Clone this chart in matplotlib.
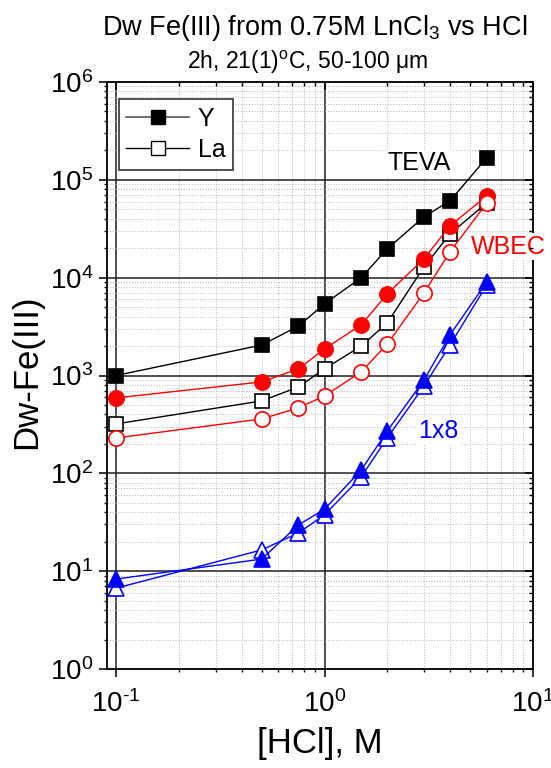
import matplotlib
matplotlib.use("Agg")
import matplotlib.pyplot as plt
from matplotlib.ticker import LogLocator, NullFormatter, FuncFormatter
from matplotlib.lines import Line2D
import numpy as np

plt.rcParams['font.family'] = ['Liberation Sans', 'DejaVu Sans']
plt.rcParams['mathtext.fontset'] = 'custom'
plt.rcParams['mathtext.rm'] = 'Liberation Sans'
plt.rcParams['mathtext.it'] = 'Liberation Sans:italic'
plt.rcParams['mathtext.bf'] = 'Liberation Sans:bold'
plt.rcParams['mathtext.default'] = 'regular'
plt.rcParams['axes.unicode_minus'] = False

# ---- data ----
hcl = [0.1, 0.5, 0.75, 1.0, 1.5, 2.0, 3.0, 4.0, 6.0]
y_teva = [1000, 2050, 3200, 5400, 10000, 19700, 41900, 61000, 168000]
la_teva = [320, 550, 764, 1170, 2000, 3450, 12900, 28000, 58200]
y_wbec = [590, 860, 1170, 1870, 3290, 6830, 15600, 33900, 68600]
la_wbec = [230, 360, 467, 618, 1090, 2100, 7000, 18400, 58000]
y_1x8 = [8.3, 13.3, 29.7, 43, 108, 271, 900, 2600, 9060]
la_1x8 = [6.7, 16.5, 24.6, 37.6, 92, 230, 780, 2050, 8440]

legend_labels = ['Y', 'La']
resin_labels = ['TEVA', 'WBEC', '1x8']


def pow_fmt(v, pos):
    e = int(round(np.log10(v)))
    s = str(e).replace('-', '\u2010')
    return '$10^{' + s + '}$'


W, H = 551, 768
fig = plt.figure(figsize=(W / 100, H / 100), dpi=100)
L, R, T, B = 107, 533, 82, 669
ax = fig.add_axes([L / W, 1 - B / H, (R - L) / W, (B - T) / H])
ax.set_xscale('log')
ax.set_yscale('log')
ax.set_xlim(0.0905, 10)
ax.set_ylim(1, 1e6)

# grid
ax.xaxis.set_major_locator(LogLocator(base=10, numticks=10))
ax.yaxis.set_major_locator(LogLocator(base=10, numticks=10))
ax.xaxis.set_minor_locator(LogLocator(base=10, subs=range(2, 10), numticks=20))
ax.yaxis.set_minor_locator(LogLocator(base=10, subs=range(2, 10), numticks=20))
ax.xaxis.set_major_formatter(FuncFormatter(pow_fmt))
ax.yaxis.set_major_formatter(FuncFormatter(pow_fmt))
ax.xaxis.set_minor_formatter(NullFormatter())
ax.yaxis.set_minor_formatter(NullFormatter())
ax.grid(True, which='minor', color='#b4b4b4', linestyle=(0, (1, 1.8)), lw=0.7, zorder=0)
ax.grid(True, which='major', color='#202020', linestyle='-', lw=1.1, zorder=0)
ax.set_axisbelow(True)

for s in ax.spines.values():
    s.set_linewidth(1.4)
    s.set_color('#111111')

ax.tick_params(which='major', direction='out', length=6, width=1.2, labelsize=20, pad=4,
               colors='#111111', labelcolor='black')
ax.tick_params(which='minor', direction='out', length=2.5, width=1.0, colors='#111111')
ax.tick_params(axis='x', which='major', pad=9)

# inward ticks on top/right
ax2 = ax.twinx()
ax2.set_yscale('log')
ax2.set_ylim(1, 1e6)
ax2.yaxis.set_major_locator(LogLocator(base=10, numticks=10))
ax2.yaxis.set_minor_locator(LogLocator(base=10, subs=range(2, 10), numticks=20))
ax2.tick_params(which='major', direction='in', length=6, width=1.2, labelright=False)
ax2.tick_params(which='minor', direction='in', length=3, width=1.0, labelright=False)
ax3 = ax.twiny()
ax3.set_xscale('log')
ax3.set_xlim(0.0905, 10)
ax3.xaxis.set_major_locator(LogLocator(base=10, numticks=10))
ax3.xaxis.set_minor_locator(LogLocator(base=10, subs=range(2, 10), numticks=20))
ax3.tick_params(which='major', direction='in', length=6, width=1.2, labeltop=False)
ax3.tick_params(which='minor', direction='in', length=3, width=1.0, labeltop=False)
for a in (ax2, ax3):
    for s in a.spines.values():
        s.set_visible(False)
    a.yaxis.set_minor_formatter(NullFormatter())
    a.xaxis.set_minor_formatter(NullFormatter())

lw = 1.0
mew = 1.2
ax.plot(hcl, y_teva, '-s', color='black', lw=lw, ms=10, mfc='black', mec='black', mew=mew, zorder=5)
ax.plot(hcl, la_teva, '-s', color='black', lw=lw, ms=10, mfc='white', mec='black', mew=mew, zorder=5)
ax.plot(hcl, y_wbec, '-o', color='red', lw=lw, ms=11, mfc='red', mec='red', mew=mew, zorder=5)
ax.plot(hcl, la_wbec, '-o', color='red', lw=lw, ms=11, mfc='white', mec='red', mew=mew, zorder=5)
ax.plot(hcl, la_1x8, '-^', color='blue', lw=lw, ms=11, mfc='white', mec='blue', mew=mew, zorder=5)
ax.plot(hcl, y_1x8, '-^', color='blue', lw=lw, ms=11, mfc='blue', mec='blue', mew=mew, zorder=5)

# legend
handles = [Line2D([], [], color='#555555', lw=1.2, marker='s', ms=10, mfc='black', mec='black'),
           Line2D([], [], color='black', lw=1.0, marker='s', ms=10, mfc='white', mec='black')]
leg = ax.legend(handles, legend_labels, loc='upper left', bbox_to_anchor=(0.028, 0.971),
                borderaxespad=0, fontsize=18, frameon=True, fancybox=False, framealpha=1,
                edgecolor='#333333', handlelength=2.5, handletextpad=0.35, borderpad=0.3,
                labelspacing=0.3, numpoints=1)
leg.get_frame().set_linewidth(1.2)
leg.set_zorder(20)

bb = dict(facecolor='white', edgecolor='none', pad=1)
ax.text(0.732, 0.862, resin_labels[0], transform=ax.transAxes, ha='center', va='center',
        fontsize=18, color='black', bbox=bb, zorder=10)
ax.text(0.943, 0.719, resin_labels[1], transform=ax.transAxes, ha='center', va='center',
        fontsize=18, color='red', bbox=bb, zorder=10, clip_on=False)
ax.text(0.777, 0.405, resin_labels[2], transform=ax.transAxes, ha='center', va='center',
        fontsize=18, color='blue', bbox=bb, zorder=10)

fig.text(315 / W, 1 - 28 / H, r'Dw Fe(III) from 0.75M LnCl$_3$ vs HCl', ha='center', va='center',
         fontsize=19.5)
fig.text(307 / W, 1 - 62 / H, r'2h, 21(1)$^{o}$C, 50-100 μm', ha='center', va='center',
         fontsize=16.5)
fig.text(27 / W, 1 - 372 / H, 'Dw-Fe(III)', rotation=90, ha='center', va='center', fontsize=25)
fig.text(320 / W, 1 - 744 / H, '[HCl], M', ha='center', va='center', fontsize=25)

fig.savefig('out.png', dpi=100, facecolor='white')
